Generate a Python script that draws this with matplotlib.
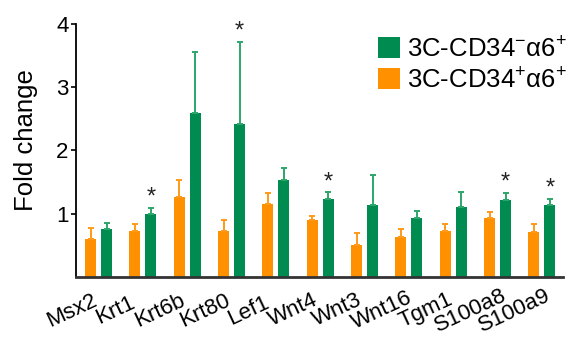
import numpy as np
import matplotlib
matplotlib.use("Agg")
import matplotlib.pyplot as plt
import matplotlib.transforms as mtransforms

plt.rcParams['font.family'] = ['Liberation Sans', 'DejaVu Sans']
plt.rcParams['mathtext.fontset'] = 'custom'
plt.rcParams['mathtext.rm'] = 'Liberation Sans'

genes = ['Msx2', 'Krt1', 'Krt6b', 'Krt80', 'Lef1', 'Wnt4', 'Wnt3',
         'Wnt16', 'Tgm1', 'S100a8', 'S100a9']
# 3C-CD34+a6+ (orange)
pos_mean = [0.60, 0.72, 1.26, 0.73, 1.16, 0.90, 0.51, 0.64, 0.72, 0.94, 0.71]
pos_err = [0.17, 0.11, 0.27, 0.17, 0.17, 0.07, 0.19, 0.12, 0.11, 0.08, 0.13]
# 3C-CD34-a6+ (green)
neg_mean = [0.76, 0.99, 2.59, 2.42, 1.53, 1.23, 1.14, 0.93, 1.11, 1.22, 1.14]
neg_err = [0.10, 0.10, 0.97, 1.30, 0.20, 0.11, 0.48, 0.12, 0.23, 0.11, 0.09]
signif = [False, True, False, True, False, True, False, False, False, True, True]

green = '#008C50'
orange = '#FF9100'

fig = plt.figure(figsize=(5.85, 3.38), dpi=100)
ax = fig.add_axes([0.13, 0.1805, 0.832, 0.7485])

x = np.arange(len(genes))
w = 0.25
off = 0.18
zeros = np.zeros(len(genes))

b_neg = ax.bar(x + off, neg_mean, w, color=green, zorder=2,
               yerr=[zeros, neg_err], error_kw=dict(ecolor='#2EA66A', elinewidth=1.4,
                                                   capsize=2.5, capthick=1.4))
b_pos = ax.bar(x - off, pos_mean, w, color=orange, zorder=2,
               yerr=[zeros, pos_err], error_kw=dict(ecolor='#FF9A1A', elinewidth=1.4,
                                                   capsize=2.5, capthick=1.4))

for i, s in enumerate(signif):
    if s:
        ax.annotate('*', (x[i] + off, neg_mean[i] + neg_err[i]), xytext=(0, 3),
                    textcoords='offset points', ha='center', va='baseline',
                    fontsize=17, color='#222222')

ax.set_xlim(-0.507, 10.47)
ax.set_ylim(0, 4)
ax.set_yticks([1, 2, 3, 4])
ax.tick_params(axis='y', length=3.5, width=1.2, labelsize=16, pad=2)
ax.tick_params(axis='x', length=0, labelsize=16, pad=24)
ax.set_xticks(x)
ax.set_xticklabels(genes, rotation=25, ha='center', va='center',
                   rotation_mode='anchor')
shift = mtransforms.ScaledTranslation(-0.27, 0, fig.dpi_scale_trans)
for lab in ax.get_xticklabels():
    lab.set_transform(lab.get_transform() + shift)

ax.set_ylabel('Fold change', fontsize=18.5)
ax.yaxis.set_label_coords(-0.078, 0.54)

for s in ['top', 'right']:
    ax.spines[s].set_visible(False)
ax.spines['left'].set_linewidth(1.3)
ax.spines['bottom'].set_linewidth(2)
ax.spines['bottom'].set_color('#333333')

ax.legend([b_neg, b_pos],
          ['3C-CD34$^{-}$α6$^{+}$', '3C-CD34$^{+}$α6$^{+}$'],
          loc='upper left', bbox_to_anchor=(0.62, 0.955), frameon=False,
          fontsize=18.5, handlelength=0.85, handleheight=0.85,
          handletextpad=0.3, labelspacing=0.2, borderpad=0, borderaxespad=0)

fig.savefig('out.png', dpi=100)
